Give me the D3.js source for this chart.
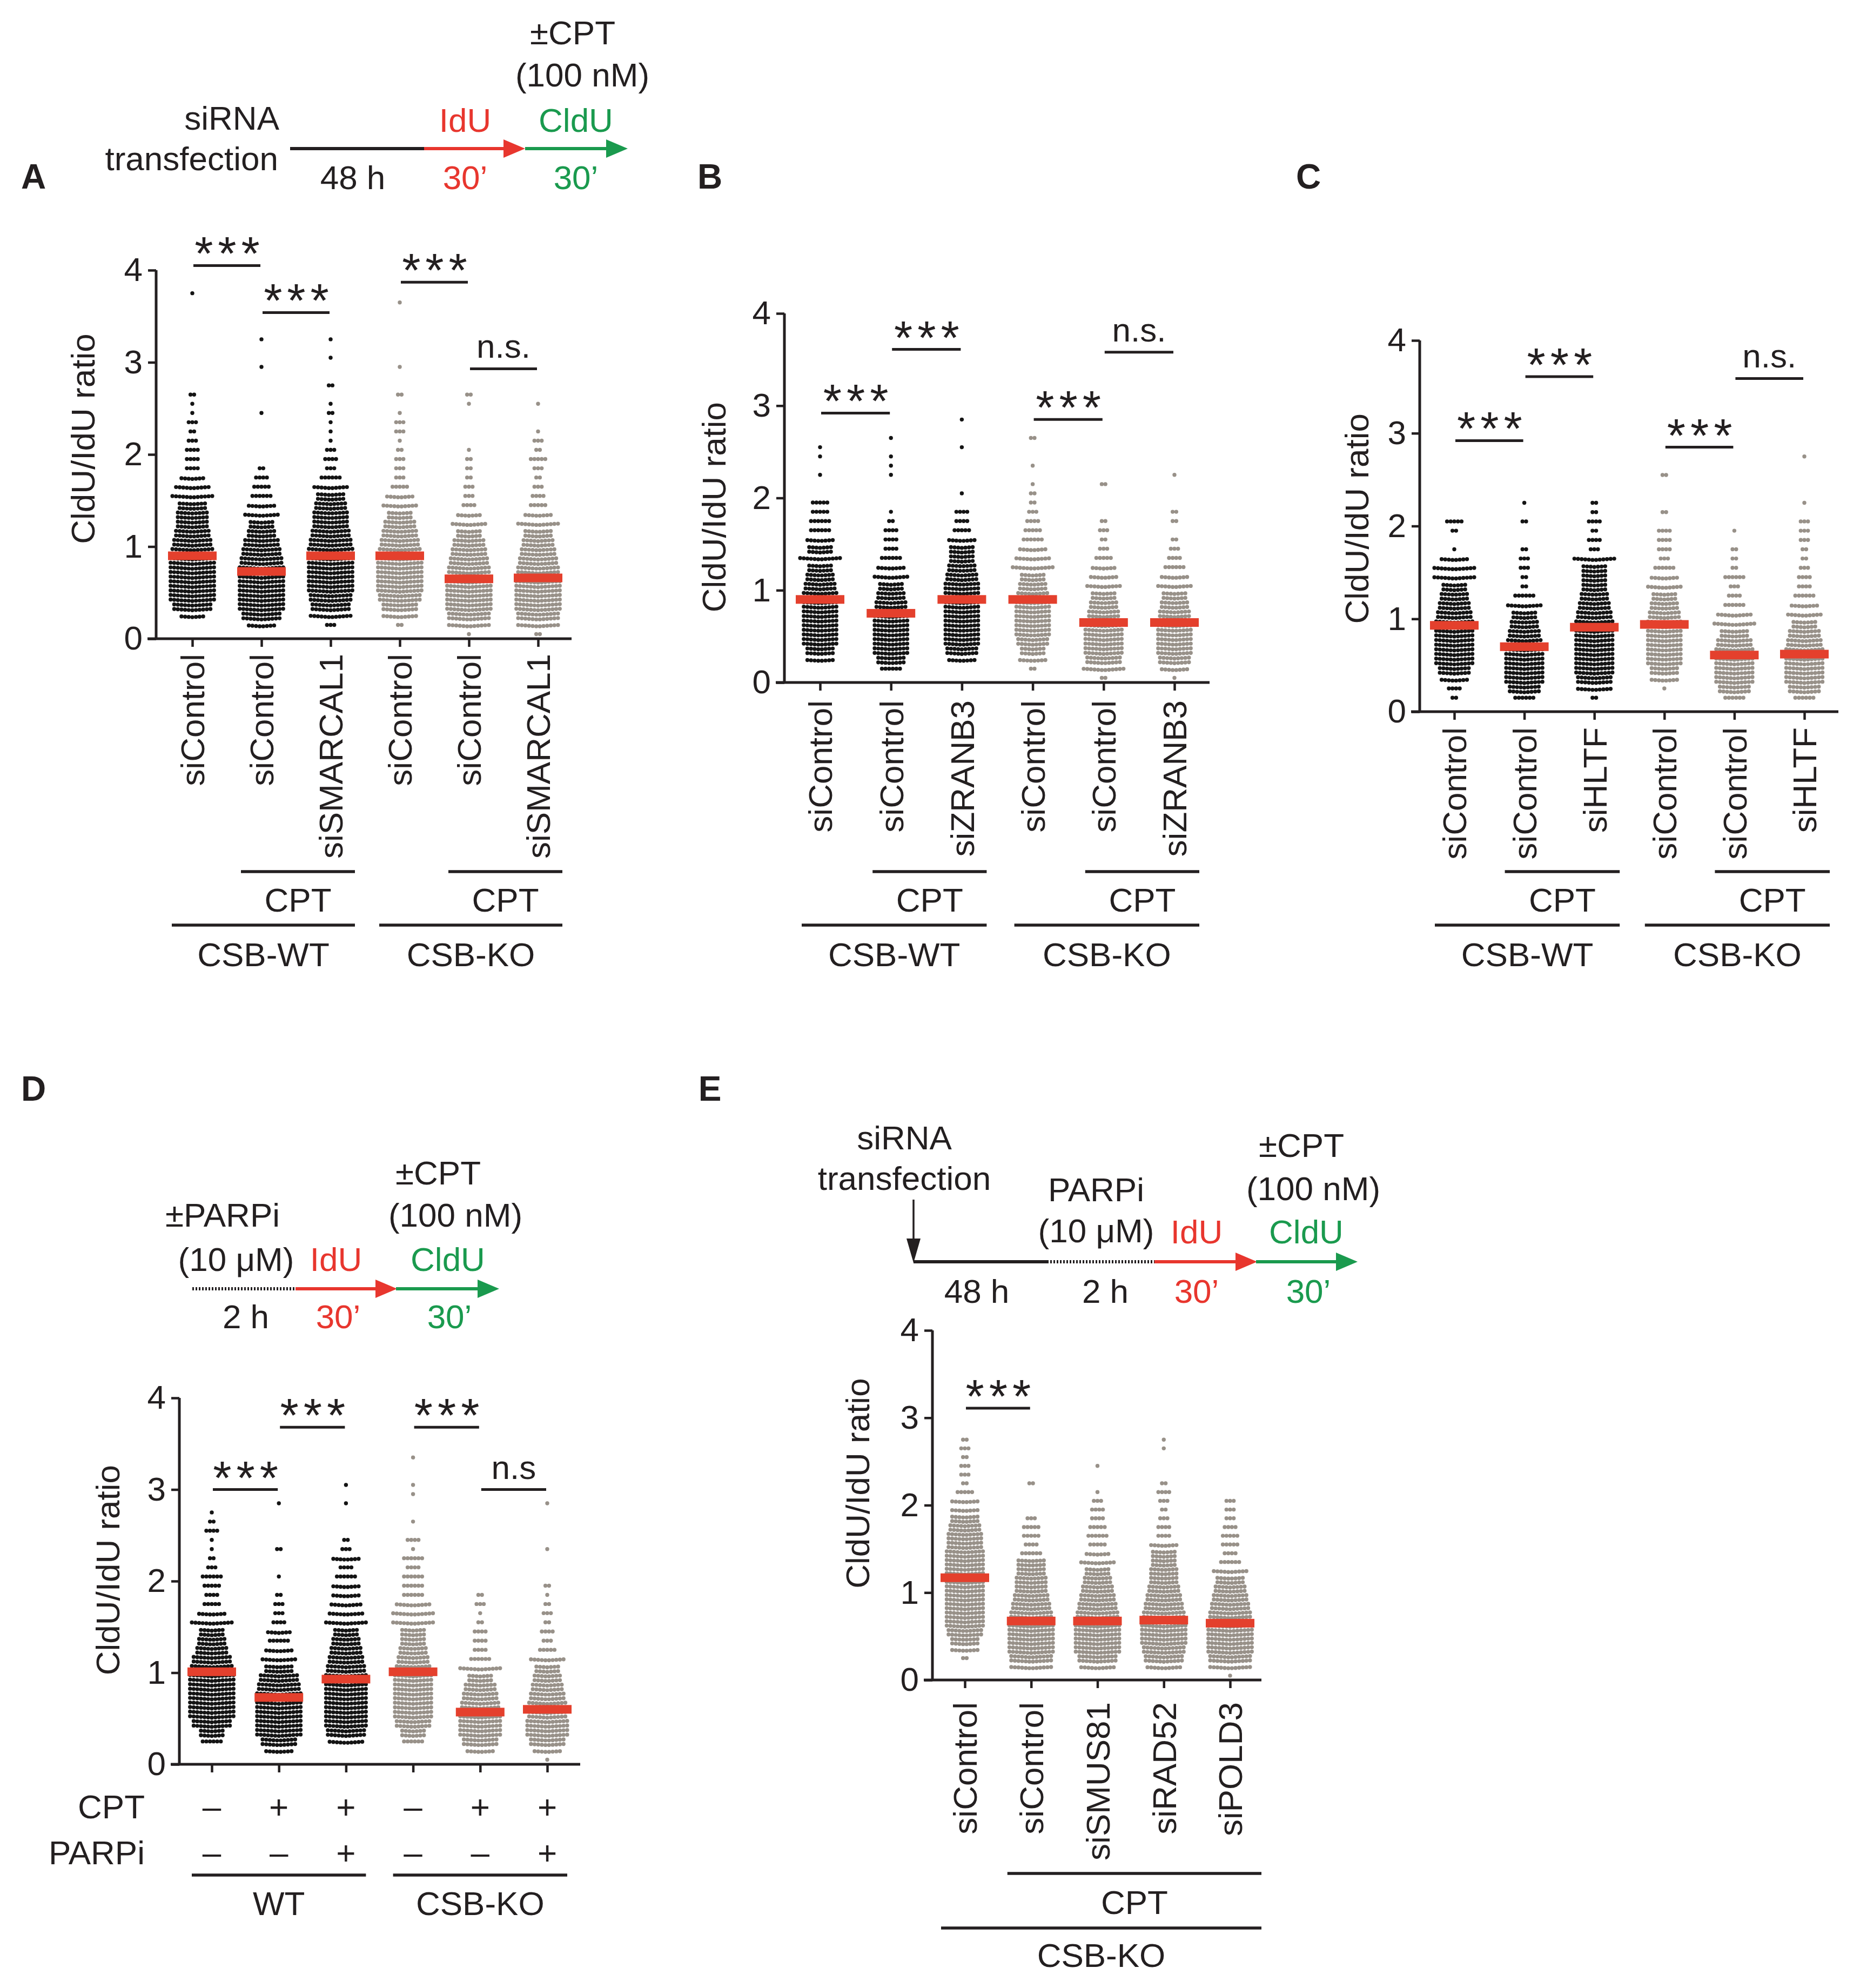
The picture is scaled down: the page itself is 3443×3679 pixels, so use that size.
<!DOCTYPE html>
<html>
<head>
<meta charset="utf-8">
<script src="https://cdn.jsdelivr.net/npm/d3@7"></script>
<style>
  body { margin: 0; background: #fff; }
  text { font-family: "Liberation Sans", Arial, Helvetica, sans-serif; fill: #231f20; }
</style>
</head>
<body>
<script>
// ---------- data ----------
// counts = number of fibres per 0.1-wide ratio bin, starting at 0
var yTicks = [0, 1, 2, 3, 4];
var binWidth = 0.1;

var aLabels = ["siControl", "siControl", "siSMARCAL1", "siControl", "siControl", "siSMARCAL1"];
var aKO = [0, 0, 0, 1, 1, 1];
var aCounts = [
  [0,0,7,22,26,26,26,26,26,24,22,20,18,18,16,12,10,7,4,4,4,3,2,3,1,1,2,0,0,0,0,0,0,0,0,0,0,1],
  [0,8,22,26,26,26,26,26,24,22,20,16,14,10,8,6,5,4,2,0,0,0,0,0,1,0,0,0,0,1,0,0,1],
  [0,3,12,22,24,26,26,26,26,26,24,22,20,20,18,16,10,6,3,4,3,1,1,1,2,1,0,2,0,0,1,0,1],
  [0,2,10,20,24,26,26,26,26,24,22,20,18,14,10,8,5,3,3,3,2,1,3,3,1,0,2,0,0,1,0,0,0,0,0,0,1],
  [1,12,24,26,26,26,26,24,22,20,18,14,10,7,4,3,3,2,2,2,1,0,0,0,0,1,2],
  [2,12,24,26,26,26,26,24,22,20,18,16,12,8,5,4,3,2,3,5,2,3,1,0,0,1]
];
var aMedians = [0.90, 0.73, 0.90, 0.90, 0.65, 0.66];
var aSig = [[0, 1, "***", 4.05], [1, 2, "***", 3.54], [3, 4, "***", 3.87], [4, 5, "n.s.", 2.93]];
var aCpt = [[1, 2], [4, 5]];
var aGroups = [["CSB-WT", 0, 2], ["CSB-KO", 3, 5]];

var bLabels = ["siControl", "siControl", "siZRANB3", "siControl", "siControl", "siZRANB3"];
var bKO = [0, 0, 0, 1, 1, 1];
var bCounts = [
  [0,0,8,16,20,20,20,20,20,20,18,16,14,12,14,8,6,6,5,5,0,0,1,0,1,1],
  [0,6,16,20,20,20,20,20,18,16,14,10,8,6,4,4,4,2,1,0,0,0,1,1,1,0,1],
  [0,0,8,18,20,20,20,20,20,20,20,18,16,14,14,8,5,4,4,0,1,0,0,0,0,1,0,0,1],
  [0,2,8,14,18,20,20,20,20,18,16,14,12,10,8,6,5,4,3,2,2,1,0,1,0,0,2],
  [2,12,20,22,22,22,20,18,16,14,10,8,7,5,3,2,3,2,0,0,0,2],
  [1,8,18,20,20,20,20,18,16,14,10,8,6,4,3,2,0,2,2,0,0,0,1]
];
var bMedians = [0.90, 0.75, 0.90, 0.90, 0.65, 0.65];
var bSig = [[0, 1, "***", 2.92], [1, 2, "***", 3.61], [3, 4, "***", 2.85], [4, 5, "n.s.", 3.58]];
var bCpt = [[1, 2], [4, 5]];
var bGroups = [["CSB-WT", 0, 2], ["CSB-KO", 3, 5]];

var cLabels = ["siControl", "siControl", "siHLTF", "siControl", "siControl", "siHLTF"];
var cKO = [0, 0, 0, 1, 1, 1];
var cCounts = [
  [0,2,4,8,18,22,22,22,22,22,20,18,16,14,12,12,8,1,0,2,5],
  [0,6,18,22,22,22,22,20,18,16,14,10,6,2,2,3,3,2,0,0,2,0,1],
  [0,2,10,20,22,22,22,22,22,22,20,18,16,14,14,14,12,3,4,2,4,2,2],
  [0,0,1,8,16,20,20,20,20,20,18,16,14,10,8,6,3,4,4,4,0,2,0,0,0,2],
  [0,6,18,22,22,22,22,20,16,12,10,6,4,3,6,2,2,2,0,1],
  [0,6,18,22,22,22,22,20,18,14,10,8,6,4,4,3,2,2,3,3,3,0,1,0,0,0,0,1]
];
var cMedians = [0.93, 0.70, 0.91, 0.94, 0.61, 0.62];
var cSig = [[0, 1, "***", 2.92], [1, 2, "***", 3.61], [3, 4, "***", 2.85], [4, 5, "n.s.", 3.59]];
var cCpt = [[1, 2], [4, 5]];
var cGroups = [["CSB-WT", 0, 2], ["CSB-KO", 3, 5]];

var dKO = [0, 0, 0, 1, 1, 1];
var dCounts = [
  [0,0,6,14,22,26,26,26,26,26,24,22,18,16,14,12,8,5,4,5,6,3,2,1,1,4,2,1],
  [0,8,20,26,26,26,26,26,24,22,16,10,8,6,7,4,3,3,2,0,1,0,0,2,0,0,0,0,1],
  [0,0,10,22,24,24,24,24,24,24,22,20,18,16,14,12,10,9,8,8,6,4,8,3,2,0,0,0,1,0,1],
  [0,0,6,14,20,22,22,22,22,22,20,18,16,14,14,12,12,10,6,6,6,4,6,1,4,0,1,0,0,1,1,0,0,1],
  [0,8,20,24,24,24,22,20,18,14,12,6,4,4,4,2,1,3,2],
  [1,8,20,24,24,22,22,20,18,16,14,10,5,3,4,2,3,2,1,2,0,0,0,1,0,0,0,0,1]
];
var dMedians = [1.01, 0.73, 0.93, 1.01, 0.57, 0.60];
var dSig = [[0, 1, "***", 3.0], [1, 2, "***", 3.68], [3, 4, "***", 3.68], [4, 5, "n.s", 3.0]];
var dCptSigns = ["\u2013", "+", "+", "\u2013", "+", "+"];
var dParpSigns = ["\u2013", "\u2013", "+", "\u2013", "\u2013", "+"];
var dGroups = [["WT", 0, 2], ["CSB-KO", 3, 5]];

var eLabels = ["siControl", "siControl", "siSMUS81", "siRAD52", "siPOLD3"];
var eKO = [1, 1, 1, 1, 1];
var eCounts = [
  [0,0,2,8,16,20,22,22,22,22,22,22,22,22,22,20,20,18,16,8,8,5,2,3,3,2,3,2],
  [0,12,24,26,26,26,26,24,22,20,18,18,16,16,6,4,5,5,3,0,0,0,2],
  [0,10,22,26,26,26,26,24,22,20,18,16,14,10,7,5,6,5,4,4,3,1,0,0,1],
  [0,10,22,24,26,26,26,24,22,20,18,16,16,14,14,8,4,4,3,2,3,4,2,0,0,0,1,1],
  [1,12,24,26,26,26,26,24,22,20,18,16,10,6,4,5,5,4,3,3,3]
];
var eMedians = [1.17, 0.675, 0.675, 0.685, 0.65];
var eSig = [[0, 1, "***", 3.11]];
var eCpt = [[1, 4]];
var eGroups = [["CSB-KO", 0, 4]];

// ---------- style ----------
var W = 3443, H = 3679;
var FS = 62;
var ink = "#231f20", dotBlack = "#141414", dotGray = "#989189";
var medRed = "#e4402d", idRed = "#e8362e", cldGreen = "#1a9a4e";
var rowCap = 13, pitch = 6.7, dotR = 3.7;

var svg = d3.select("body").append("svg").attr("width", W).attr("height", H);
svg.append("rect").attr("width", W).attr("height", H).attr("fill", "#fff");

// spread one column's bin counts into rows of dots
function layoutDots(counts) {
  var pts = [];
  counts.forEach(function (n, i) {
    if (!n) return;
    var rows = Math.ceil(n / rowCap);
    for (var r = 0; r < rows; r++) {
      var k = Math.floor(n / rows) + (r < n % rows ? 1 : 0);
      var v = i * binWidth + binWidth * (r + 0.5) / rows;
      for (var j = 0; j < k; j++) {
        var off = j - (k - 1) / 2;
        var chev = k > 6 ? 0.016 * (1 - Math.abs(off) / ((rowCap - 1) / 2)) : 0;
        pts.push({ v: v - chev, off: off });
      }
    }
  });
  return pts;
}

function line(g, x1, y1, x2, y2, w) {
  g.append("line").attr("x1", x1).attr("y1", y1).attr("x2", x2).attr("y2", y2)
    .attr("stroke", ink).attr("stroke-width", w || 5);
}

function txt(g, s, x, y, opt) {
  opt = opt || {};
  return g.append("text").attr("x", x).attr("y", y).attr("dy", "0.36em")
    .attr("text-anchor", opt.anchor || "middle")
    .attr("font-size", opt.size || FS)
    .attr("font-weight", opt.bold ? "bold" : null)
    .style("fill", opt.color || ink)
    .text(s);
}

function drawPanel(p) {
  var y = d3.scaleLinear().domain([0, 4]).range([p.y0, p.y4]);
  var x = d3.scalePoint().domain(d3.range(p.counts.length)).range([p.c0, p.c1]);
  var g = svg.append("g");

  p.counts.forEach(function (counts, ci) {
    g.append("g").selectAll("circle")
      .data(layoutDots(counts))
      .enter().append("circle")
      .attr("cx", function (d) { return x(ci) + d.off * pitch; })
      .attr("cy", function (d) { return y(d.v); })
      .attr("r", dotR)
      .attr("fill", p.ko[ci] ? dotGray : dotBlack);
  });

  g.append("g").selectAll("rect")
    .data(p.medians)
    .enter().append("rect")
    .attr("x", function (d, i) { return x(i) - 45; })
    .attr("width", 90)
    .attr("y", function (d) { return y(d) - 8; })
    .attr("height", 16)
    .attr("fill", medRed);

  // axes
  var ya = g.append("g").attr("transform", "translate(" + p.axisX + ",0)")
    .call(d3.axisLeft(y).tickValues(yTicks).tickSize(15).tickPadding(10).tickFormat(d3.format("d")));
  ya.attr("font-size", FS).attr("font-family", null).attr("color", ink);
  ya.select(".domain").remove();
  ya.selectAll("line").attr("stroke-width", 4.5);
  line(g, p.axisX, p.y0, p.axisX, p.y4, 5);
  line(g, p.axisX - 16, p.y0, p.xEnd, p.y0, 5);

  var xa = g.append("g").attr("transform", "translate(0," + p.y0 + ")")
    .call(d3.axisBottom(x).tickSize(15).tickFormat(""));
  xa.attr("color", ink);
  xa.select(".domain").remove();
  xa.selectAll("line").attr("stroke-width", 4.5);

  g.append("text")
    .attr("transform", "translate(" + p.ylabX + "," + y(p.ylabV) + ") rotate(-90)")
    .attr("text-anchor", "middle").attr("dy", "0.36em").attr("font-size", FS)
    .text("CldU/IdU ratio");

  if (p.labels) {
    g.selectAll(".xl").data(p.labels).enter().append("text")
      .attr("transform", function (d, i) { return "translate(" + x(i) + "," + p.labTop + ") rotate(-90)"; })
      .attr("text-anchor", "end").attr("dy", "0.36em").attr("font-size", FS)
      .text(function (d) { return d; });
  }

  p.sig.forEach(function (s) {
    var yy = y(s[3]);
    line(g, x(s[0]) + 2, yy, x(s[1]) - 2, yy, 5);
    var mid = (x(s[0]) + x(s[1])) / 2;
    if (s[2] === "***") {
      g.append("text").attr("x", mid + 5).attr("y", yy + 8).attr("text-anchor", "middle")
        .attr("font-size", 88).attr("letter-spacing", 9).text(s[2]);
    } else {
      g.append("text").attr("x", mid).attr("y", yy - 20).attr("text-anchor", "middle")
        .attr("font-size", FS).text(s[2]);
    }
  });

  if (p.cpt) {
    p.cpt.forEach(function (c) {
      var x1 = x(c[0]) - p.padL, x2 = x(c[1]) + p.padR;
      line(g, x1, p.cptY, x2, p.cptY, 5.5);
      txt(g, "CPT", (x1 + x2) / 2, p.cptTxt);
    });
  }
  p.groups.forEach(function (c) {
    var x1 = x(c[1]) - p.padL, x2 = x(c[2]) + p.padR;
    line(g, x1, p.grpY, x2, p.grpY, 5.5);
    txt(g, c[0], (x1 + x2) / 2, p.grpTxt);
  });
  if (p.signs) {
    txt(g, "CPT", p.signLabX, p.signY[0], { anchor: "end" });
    txt(g, "PARPi", p.signLabX, p.signY[1], { anchor: "end" });
    p.signs.forEach(function (row, ri) {
      row.forEach(function (s, i) { txt(g, s, x(i), p.signY[ri]); });
    });
  }
}

drawPanel({ counts: aCounts, ko: aKO, medians: aMedians, sig: aSig, labels: aLabels, cpt: aCpt, groups: aGroups,
  axisX: 289, y0: 1182, y4: 500, c0: 356, c1: 996, xEnd: 1058, labTop: 1210, ylabX: 153, ylabV: 2.17,
  cptY: 1613, cptTxt: 1665, grpY: 1712, grpTxt: 1766, padL: 38, padR: 45 });
drawPanel({ counts: bCounts, ko: bKO, medians: bMedians, sig: bSig, labels: bLabels, cpt: bCpt, groups: bGroups,
  axisX: 1452, y0: 1263, y4: 580, c0: 1518, c1: 2174, xEnd: 2239, labTop: 1296, ylabX: 1321, ylabV: 1.9,
  cptY: 1613, cptTxt: 1665, grpY: 1712, grpTxt: 1766, padL: 34, padR: 46 });
drawPanel({ counts: cCounts, ko: cKO, medians: cMedians, sig: cSig, labels: cLabels, cpt: cCpt, groups: cGroups,
  axisX: 2628, y0: 1317, y4: 630, c0: 2692, c1: 3340, xEnd: 3403, labTop: 1346, ylabX: 2511, ylabV: 2.08,
  cptY: 1613, cptTxt: 1665, grpY: 1712, grpTxt: 1766, padL: 36, padR: 47 });
drawPanel({ counts: dCounts, ko: dKO, medians: dMedians, sig: dSig, groups: dGroups,
  signs: [dCptSigns, dParpSigns], signY: [3343, 3428], signLabX: 268,
  axisX: 332, y0: 3265, y4: 2587, c0: 392, c1: 1013, xEnd: 1074, ylabX: 199, ylabV: 2.12,
  grpY: 3470, grpTxt: 3522, padL: 37, padR: 37 });
drawPanel({ counts: eCounts, ko: eKO, medians: eMedians, sig: eSig, labels: eLabels, cpt: eCpt, groups: eGroups,
  axisX: 1726, y0: 3109, y4: 2462, c0: 1786, c1: 2277, xEnd: 2335, labTop: 3150, ylabX: 1587, ylabV: 2.25,
  cptY: 3467, cptTxt: 3520, grpY: 3568, grpTxt: 3618, padL: 44, padR: 58 });

// ---------- panel letters ----------
[["A", 62, 326], ["B", 1314, 326], ["C", 2422, 326], ["D", 62, 2014], ["E", 1314, 2014]].forEach(function (l) {
  txt(svg, l[0], l[1], l[2], { bold: true, size: 64 });
});

// ---------- labelling schemes ----------
function arrow(g, x1, x2, yy, col) {
  g.append("line").attr("x1", x1).attr("y1", yy).attr("x2", x2 - 30).attr("y2", yy)
    .attr("stroke", col).attr("stroke-width", 6);
  g.append("path").attr("d", "M" + x2 + "," + yy + "L" + (x2 - 40) + "," + (yy - 17) + "L" + (x2 - 40) + "," + (yy + 17) + "Z")
    .attr("fill", col);
}
function dotted(g, x1, x2, yy) {
  g.append("line").attr("x1", x1).attr("y1", yy).attr("x2", x2).attr("y2", yy)
    .attr("stroke", ink).attr("stroke-width", 6).attr("stroke-dasharray", "3,3");
}

var sA = svg.append("g");
txt(sA, "siRNA", 517, 218, { anchor: "end" });
txt(sA, "transfection", 515, 293, { anchor: "end" });
line(sA, 537, 275, 785, 275, 6);
arrow(sA, 785, 972, 275, idRed);
arrow(sA, 972, 1162, 275, cldGreen);
txt(sA, "48 h", 653, 328);
txt(sA, "IdU", 861, 222, { color: idRed });
txt(sA, "30\u2019", 861, 328, { color: idRed });
txt(sA, "CldU", 1066, 222, { color: cldGreen });
txt(sA, "30\u2019", 1066, 328, { color: cldGreen });
txt(sA, "\u00b1CPT", 1060, 60);
txt(sA, "(100 nM)", 1078, 138);

var sD = svg.append("g");
txt(sD, "\u00b1CPT", 811, 2170);
txt(sD, "(100 nM)", 843, 2248);
txt(sD, "\u00b1PARPi", 412, 2248);
txt(sD, "(10 \u03bcM)", 437, 2330);
txt(sD, "IdU", 622, 2330, { color: idRed });
txt(sD, "CldU", 829, 2330, { color: cldGreen });
dotted(sD, 356, 547, 2385);
arrow(sD, 547, 735, 2385, idRed);
arrow(sD, 733, 924, 2385, cldGreen);
txt(sD, "2 h", 455, 2436);
txt(sD, "30\u2019", 626, 2436, { color: idRed });
txt(sD, "30\u2019", 832, 2436, { color: cldGreen });

var sE = svg.append("g");
txt(sE, "siRNA", 1674, 2105);
txt(sE, "transfection", 1674, 2180);
sE.append("line").attr("x1", 1691).attr("y1", 2220).attr("x2", 1691).attr("y2", 2300)
  .attr("stroke", ink).attr("stroke-width", 3.5);
sE.append("path").attr("d", "M1691,2337L1678,2292L1704,2292Z").attr("fill", ink);
line(sE, 1691, 2335, 1938, 2335, 6);
dotted(sE, 1938, 2137, 2335);
arrow(sE, 2137, 2327, 2335, idRed);
arrow(sE, 2325, 2513, 2335, cldGreen);
txt(sE, "PARPi", 2029, 2201);
txt(sE, "(10 \u03bcM)", 2029, 2277);
txt(sE, "IdU", 2215, 2279, { color: idRed });
txt(sE, "CldU", 2418, 2279, { color: cldGreen });
txt(sE, "\u00b1CPT", 2409, 2119);
txt(sE, "(100 nM)", 2431, 2199);
txt(sE, "48 h", 1808, 2389);
txt(sE, "2 h", 2046, 2389);
txt(sE, "30\u2019", 2215, 2389, { color: idRed });
txt(sE, "30\u2019", 2422, 2389, { color: cldGreen });
</script>
</body>
</html>
